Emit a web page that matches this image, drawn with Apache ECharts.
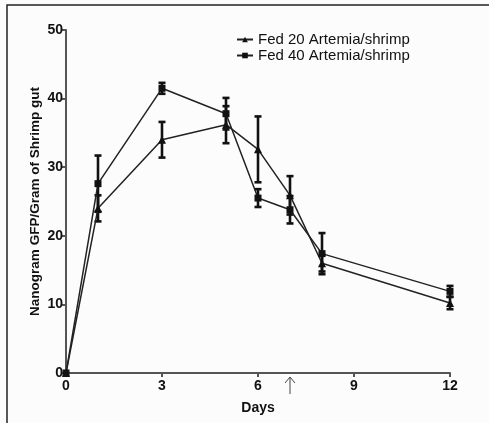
<!DOCTYPE html>
<html><head><meta charset="utf-8">
<script src="https://cdn.jsdelivr.net/npm/echarts@6/dist/echarts.min.js"></script>
<style>html,body{margin:0;padding:0;background:#fcfcfc}#c{width:489px;height:423px}</style>
</head><body><div id="c"></div>
<script>
const days = [0, 1, 3, 5, 6, 7, 8, 12];
const fed20 = [0, 24.0, 34.0, 36.2, 32.6, 25.9, 16.0, 10.2];
const fed20Err = [0, 1.9, 2.6, 2.7, 4.8, 2.8, 1.2, 0.9];
const fed40 = [0, 27.6, 41.5, 37.8, 25.5, 23.8, 17.4, 11.9];
const fed40Err = [0, 4.1, 0.8, 2.3, 1.3, 2.0, 3.0, 0.8];
const xTicks = [0, 3, 6, 9, 12];
const arrowDay = 7;
const names = ['Fed 20 Artemia/shrimp', 'Fed 40 Artemia/shrimp'];

const font = 'Liberation Sans, Arial, sans-serif';
const chart = echarts.init(document.getElementById('c'));

function errData(vals, errs) {
  return days.map((d, i) => [d, vals[i] - errs[i], vals[i] + errs[i]]);
}
function errSeries(vals, errs) {
  return {
    type: 'custom',
    data: errData(vals, errs),
    z: 3,
    silent: true,
    renderItem: function (params, api) {
      if (api.value(2) - api.value(1) <= 0) return null;
      const lo = api.coord([api.value(0), api.value(1)]);
      const hi = api.coord([api.value(0), api.value(2)]);
      const w = 3.5;
      const st = { stroke: '#111', lineWidth: 2.6 };
      return {
        type: 'group',
        children: [
          { type: 'line', shape: { x1: lo[0], y1: lo[1], x2: hi[0], y2: hi[1] }, style: st },
          { type: 'line', shape: { x1: lo[0] - w, y1: lo[1], x2: lo[0] + w, y2: lo[1] }, style: st },
          { type: 'line', shape: { x1: hi[0] - w, y1: hi[1], x2: hi[0] + w, y2: hi[1] }, style: st }
        ]
      };
    }
  };
}

const frame = { type: 'rect', shape: { x: 7, y: 5, width: 600, height: 600 },
  style: { fill: 'none', stroke: '#222', lineWidth: 1.5 }, silent: true };

const option = {
  backgroundColor: '#fcfcfc',
  animation: false,
  grid: { left: 66, top: 30, right: 39, bottom: 50, containLabel: false },
  legend: {
    orient: 'vertical',
    left: 231,
    top: 27,
    itemWidth: 16,
    itemHeight: 7,
    itemGap: 1,
    textStyle: { fontFamily: font, fontSize: 15, color: '#111' },
    data: names
  },
  xAxis: {
    type: 'value', min: 0, max: 12, interval: 3,
    name: 'Days', nameLocation: 'middle', nameGap: 28, nameMoveOverlap: false,
    nameTextStyle: { fontFamily: font, fontSize: 14, fontWeight: 'bold', color: '#111' },
    axisLine: { lineStyle: { color: '#555', width: 2 } },
    axisTick: { show: true, length: 4, lineStyle: { color: '#555', width: 2 } },
    axisLabel: { fontFamily: font, fontSize: 14, fontWeight: 'bold', color: '#111', margin: 6,
      customValues: xTicks },
    splitLine: { show: false }
  },
  yAxis: {
    type: 'value', min: 0, max: 50, interval: 10,
    name: 'Nanogram GFP/Gram of Shrimp gut', nameLocation: 'middle', nameGap: 24, nameMoveOverlap: false,
    nameTextStyle: { fontFamily: font, fontSize: 13.5, fontWeight: 'bold', color: '#111' },
    axisLine: { show: true, lineStyle: { color: '#555', width: 2 } },
    axisTick: { show: true, length: 4, lineStyle: { color: '#555', width: 2 } },
    axisLabel: { fontFamily: font, fontSize: 14, fontWeight: 'bold', color: '#111', margin: 3 },
    splitLine: { show: false }
  },
  series: [
    {
      name: names[0], type: 'line', z: 4,
      data: days.map((d, i) => [d, fed20[i]]),
      symbol: 'triangle', symbolSize: 8,
      itemStyle: { color: '#111' },
      lineStyle: { color: '#222', width: 1.5 }
    },
    {
      name: names[1], type: 'line', z: 4,
      data: days.map((d, i) => [d, fed40[i]]),
      symbol: 'rect', symbolSize: 7,
      itemStyle: { color: '#111' },
      lineStyle: { color: '#222', width: 1.5 }
    },
    errSeries(fed20, fed20Err),
    errSeries(fed40, fed40Err)
  ],
  graphic: [frame]
};
chart.setOption(option);

const p = chart.convertToPixel({ gridIndex: 0 }, [arrowDay, 0]);
chart.setOption({
  graphic: [
    frame,
    { type: 'group', silent: true, children: [
      { type: 'line', shape: { x1: p[0], y1: p[1] + 4, x2: p[0], y2: p[1] + 21 }, style: { stroke: '#444', lineWidth: 1 } },
      { type: 'line', shape: { x1: p[0] - 5, y1: p[1] + 10, x2: p[0], y2: p[1] + 4 }, style: { stroke: '#444', lineWidth: 1 } },
      { type: 'line', shape: { x1: p[0] + 5, y1: p[1] + 10, x2: p[0], y2: p[1] + 4 }, style: { stroke: '#444', lineWidth: 1 } }
    ] }
  ]
});
</script></body></html>
